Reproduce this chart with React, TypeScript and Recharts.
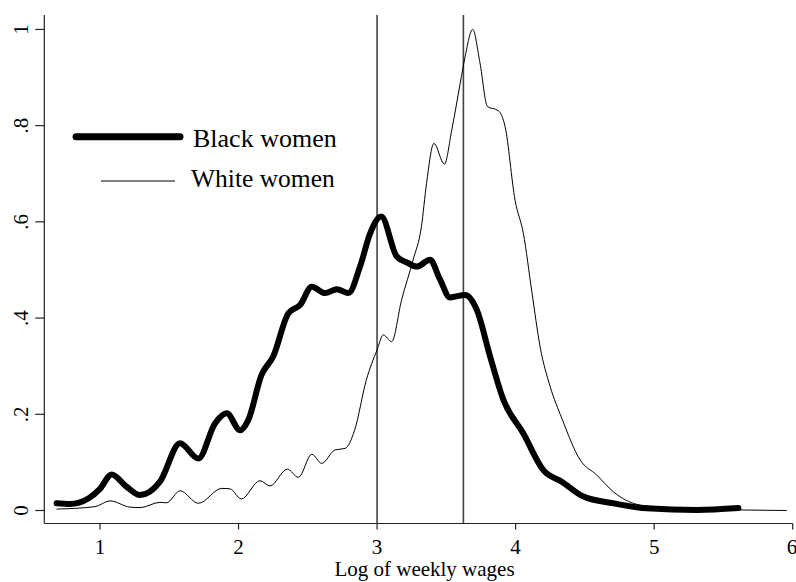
import { Legend, Line, LineChart, ReferenceLine, XAxis, YAxis, Label } from "recharts";

const FONT = '"Liberation Serif", "Times New Roman", serif';

// log weekly wage grid + kernel density
const blackX = [0.687, 0.783, 0.916, 1.0, 1.084, 1.19, 1.289, 1.433, 1.578, 1.71, 1.83, 1.915, 2.011, 2.07, 2.166, 2.25, 2.36, 2.444, 2.529, 2.625, 2.71, 2.793, 2.877, 2.95, 3.03, 3.142, 3.22, 3.286, 3.383, 3.45, 3.527, 3.635, 3.72, 3.816, 3.912, 4.056, 4.2, 4.333, 4.49, 4.706, 4.947, 5.308, 5.608];
const blackY = [0.015, 0.0135, 0.025, 0.045, 0.075, 0.05, 0.032, 0.06, 0.14, 0.108, 0.181, 0.202, 0.167, 0.188, 0.282, 0.32, 0.41, 0.427, 0.465, 0.452, 0.46, 0.452, 0.507, 0.576, 0.611, 0.528, 0.515, 0.507, 0.521, 0.483, 0.443, 0.448, 0.417, 0.32, 0.23, 0.16, 0.084, 0.06, 0.029, 0.015, 0.0045, 0.001, 0.005];

const whiteX = [0.687, 0.964, 1.072, 1.217, 1.289, 1.433, 1.48, 1.578, 1.71, 1.88, 1.939, 2.02, 2.155, 2.227, 2.352, 2.432, 2.529, 2.6, 2.697, 2.769, 2.838, 2.922, 3.0, 3.045, 3.105, 3.177, 3.26, 3.32, 3.357, 3.41, 3.486, 3.539, 3.6, 3.635, 3.69, 3.743, 3.796, 3.875, 3.924, 3.996, 4.056, 4.117, 4.177, 4.25, 4.333, 4.466, 4.585, 4.705, 4.898, 5.187, 5.668, 5.957];
const whiteY = [0.003, 0.008, 0.02, 0.007, 0.006, 0.017, 0.016, 0.041, 0.015, 0.046, 0.045, 0.024, 0.062, 0.051, 0.086, 0.069, 0.117, 0.098, 0.126, 0.129, 0.167, 0.271, 0.334, 0.365, 0.351, 0.438, 0.521, 0.59, 0.68, 0.763, 0.72, 0.791, 0.888, 0.943, 1.0, 0.93, 0.84, 0.831, 0.798, 0.645, 0.576, 0.455, 0.34, 0.257, 0.192, 0.105, 0.074, 0.039, 0.0114, 0.0045, 0.001, 0];

const xTicks = [1, 2, 3, 4, 5, 6];
const yTicks = [0, 0.2, 0.4, 0.6, 0.8, 1];
const vLines = [3, 3.623];
const seriesNames = ["Black women", "White women"];

const blackData = blackX.map((x, i) => ({ x, y: blackY[i] }));
const whiteData = whiteX.map((x, i) => ({ x, y: whiteY[i] }));

const fmtY = (v: number) => (v === 0 ? "0" : v === 1 ? "1" : String(v).replace(/^0/, ""));

const YTick = (props: any) => {
	const { x, y, payload } = props;
	const bx = x - 5;
	return (
		<text x={bx} y={y} transform={`rotate(-90 ${bx} ${y})`} textAnchor="middle" fontFamily={FONT} fontSize={21} fill="#000">
			{fmtY(payload.value)}
		</text>
	);
};

const XTick = (props: any) => {
	const { x, y, payload } = props;
	return (
		<text x={x} y={y + 22} textAnchor="middle" fontFamily={FONT} fontSize={21} fill="#000">
			{payload.value}
		</text>
	);
};

const renderLegend = () => (
	<svg width={300} height={90}>
		<line x1={6} y1={26.7} x2={110} y2={26.7} stroke="#000" strokeWidth={7} strokeLinecap="round" />
		<text x={123} y={36.5} fontFamily={FONT} fontSize={26} fill="#000">
			{seriesNames[0]}
		</text>
		<line x1={31} y1={71} x2={105} y2={71} stroke="#000" strokeWidth={1.2} />
		<text x={121} y={77.3} fontFamily={FONT} fontSize={25.5} fill="#000">
			{seriesNames[1]}
		</text>
	</svg>
);

const App = () => {
	return (
		<div style={{ position: "absolute", left: 0, top: 0, background: "#fff" }}>
			<LineChart width={796} height={582} margin={{ top: 15, right: 3.3, left: 0, bottom: 28.5 }}>
				<XAxis
					dataKey="x"
					type="number"
					domain={[0.598, 6]}
					allowDataOverflow
					ticks={xTicks}
					height={30}
					tickSize={6}
					stroke="#222"
					strokeWidth={1.2}
					tick={<XTick />}
				>
					<Label
						content={(p: any) => {
							const vb = p.viewBox;
							return (
								<text x={vb.x + vb.width / 2 + 6} y={576} textAnchor="middle" fontFamily={FONT} fontSize={21} fill="#000">
									Log of weekly wages
								</text>
							);
						}}
					/>
				</XAxis>
				<YAxis
					dataKey="y"
					type="number"
					domain={[-0.027, 1.03]}
					allowDataOverflow
					ticks={yTicks}
					width={44.3}
					tickSize={9}
					stroke="#222"
					strokeWidth={1.2}
					tick={<YTick />}
				/>
				{vLines.map((v) => (
					<ReferenceLine key={v} x={v} stroke="#444" strokeWidth={1.6} />
				))}
				<Line
					data={whiteData}
					dataKey="y"
					type="monotone"
					stroke="#000"
					strokeWidth={1}
					dot={false}
					isAnimationActive={false}
				/>
				<Line
					data={blackData}
					dataKey="y"
					type="monotone"
					stroke="#000"
					strokeWidth={6}
					strokeLinecap="round"
					strokeLinejoin="round"
					dot={false}
					isAnimationActive={false}
				/>
				<Legend
					layout="horizontal"
					align="center"
					verticalAlign="middle"
					wrapperStyle={{ left: 70, top: 110, width: 300, height: 90 }}
					content={renderLegend}
				/>
			</LineChart>
		</div>
	);
};

export default App;
